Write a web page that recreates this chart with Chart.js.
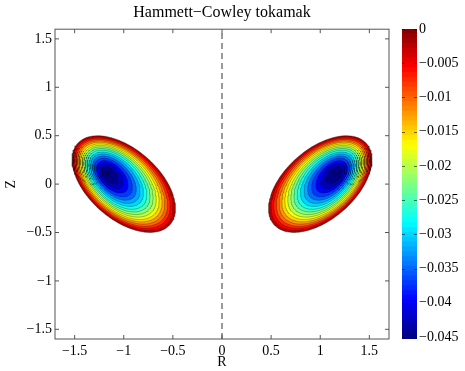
<!DOCTYPE html>
<html>
<head>
<meta charset="utf-8">
<script src="https://cdn.jsdelivr.net/npm/chart.js@4.4.1/dist/chart.umd.min.js"></script>
<style>
  html, body { margin: 0; padding: 0; background: #fff; }
  #wrap { position: relative; width: 465px; height: 371px; }
  #main { position: absolute; left: 0; top: 0; }
  #cbar { position: absolute; left: 395px; top: 0; }
</style>
</head>
<body>
<div id="wrap">
  <canvas id="main" width="465" height="371"></canvas>
  <canvas id="cbar" width="70" height="371"></canvas>
</div>
<script>
// contour levels of psi (outermost = separatrix at 0)
const levels = [0, -0.0025, -0.005, -0.0075, -0.01, -0.0125, -0.015, -0.0175, -0.02,
  -0.0225, -0.025, -0.0275, -0.03, -0.0325, -0.035, -0.0375, -0.04, -0.0425, -0.045];
// shape of each contour for the left lobe (right lobe is its mirror in R)
const centerR = [-1.000, -1.006, -1.012, -1.019, -1.025, -1.032, -1.039, -1.046, -1.054,
  -1.061, -1.069, -1.077, -1.086, -1.095, -1.105, -1.116, -1.128, -1.142, -1.163];
const centerZ = [0.000, 0.004, 0.008, 0.012, 0.016, 0.021, 0.025, 0.030, 0.035,
  0.040, 0.045, 0.050, 0.056, 0.062, 0.068, 0.075, 0.083, 0.092, 0.106];
const semiMajor = [0.630, 0.607, 0.584, 0.560, 0.536, 0.511, 0.485, 0.459, 0.431,
  0.403, 0.374, 0.343, 0.311, 0.277, 0.241, 0.201, 0.156, 0.103, 0.024];
const semiMinor = [0.360, 0.347, 0.334, 0.320, 0.306, 0.292, 0.277, 0.262, 0.247,
  0.230, 0.214, 0.196, 0.178, 0.158, 0.137, 0.115, 0.089, 0.059, 0.014];
const tiltDeg = [-42.0, -42.3, -42.6, -42.9, -43.2, -43.5, -43.8, -44.2, -44.5,
  -44.9, -45.3, -45.6, -46.0, -46.5, -46.9, -47.5, -48.0, -48.7, -49.7];

const psiMin = -0.0453;
const psiMax = 0;

const xTicks = [-1.5, -1, -0.5, 0, 0.5, 1, 1.5];
const yTicks = [-1.5, -1, -0.5, 0, 0.5, 1, 1.5];
const cbTicks = [0, -0.005, -0.01, -0.015, -0.02, -0.025, -0.03, -0.035, -0.04, -0.045];
const xRange = [-1.7, 1.7];
const yRange = [-1.6, 1.6];

const serif = "'Liberation Serif', 'DejaVu Serif', serif";
const fmt = v => String(v).replace('-', '\u2212');

// MATLAB style jet, 64 entries
function jet(v) {
  const x = (v - psiMin) / (psiMax - psiMin);
  const i = Math.min(63, Math.max(0, Math.floor(x * 64)));
  const t = (i + 0.5) / 64;
  const c = d => Math.round(255 * Math.max(0, Math.min(1, 1.5 - Math.abs(4 * t - d))));
  return `rgb(${c(3)},${c(2)},${c(1)})`;
}

function contourPoints(k, side) {
  const th = tiltDeg[k] * Math.PI / 180;
  const pts = [];
  const n = 140;
  for (let i = 0; i <= n; i++) {
    const t = 2 * Math.PI * i / n;
    const u = semiMajor[k] * Math.cos(t);
    const w = semiMinor[k] * Math.sin(t);
    const r = centerR[k] + u * Math.cos(th) - w * Math.sin(th);
    const z = centerZ[k] + u * Math.sin(th) + w * Math.cos(th);
    pts.push({ x: side * r, y: z });
  }
  return pts;
}

const step = levels[0] - levels[1];
const datasets = [];
levels.forEach((lv, k) => {
  [1, -1].forEach(side => {
    datasets.push({
      data: contourPoints(k, side),
      borderColor: k === 0 ? 'rgba(0,0,0,0.8)' : 'rgba(0,0,0,0.55)',
      borderWidth: 0.5,
      backgroundColor: jet(lv - step),
      fill: 'shape',
      pointRadius: 0,
      tension: 0,
      order: 100 - k
    });
  });
});
datasets.push({
  data: [{ x: 0, y: yRange[0] }, { x: 0, y: yRange[1] }],
  borderColor: '#333',
  borderWidth: 1,
  borderDash: [6, 4],
  fill: false,
  pointRadius: 0,
  order: -1
});

// box around the axes with inward ticks on all four sides
const framePlugin = {
  id: 'frame',
  afterDraw(chart) {
    const { ctx, chartArea: a, scales } = chart;
    ctx.save();
    ctx.strokeStyle = '#555';
    ctx.lineWidth = 1;
    ctx.strokeRect(a.left, a.top, a.right - a.left, a.bottom - a.top);
    ctx.beginPath();
    xTicks.forEach(v => {
      const px = scales.x.getPixelForValue(v);
      ctx.moveTo(px, a.bottom); ctx.lineTo(px, a.bottom - 4);
      ctx.moveTo(px, a.top); ctx.lineTo(px, a.top + 4);
    });
    yTicks.forEach(v => {
      const py = scales.y.getPixelForValue(v);
      ctx.moveTo(a.left, py); ctx.lineTo(a.left + 4, py);
      ctx.moveTo(a.right, py); ctx.lineTo(a.right - 4, py);
    });
    ctx.stroke();
    ctx.restore();
  }
};

new Chart(document.getElementById('main'), {
  type: 'line',
  data: { datasets },
  plugins: [framePlugin],
  options: {
    responsive: false,
    animation: false,
    layout: { padding: { left: 0, right: 76, top: 0, bottom: 0 } },
    plugins: {
      legend: { display: false },
      tooltip: { enabled: false },
      title: {
        display: true,
        text: 'Hammett\u2212Cowley tokamak',
        fullSize: false,
        color: '#000',
        font: { family: serif, size: 16, weight: 'normal' },
        padding: { top: 3, bottom: 7 }
      }
    },
    scales: {
      x: {
        type: 'linear',
        min: xRange[0],
        max: xRange[1],
        afterBuildTicks: s => { s.ticks = xTicks.map(v => ({ value: v })); },
        afterFit: s => { s.height = 32; },
        grid: { display: false, drawTicks: false },
        border: { display: false },
        ticks: { padding: 4, autoSkip: false, maxRotation: 0, color: '#000',
          font: { family: serif, size: 14 }, callback: v => fmt(v) },
        title: { display: true, text: 'R', color: '#000', padding: 0,
          font: { family: serif, size: 14 } }
      },
      y: {
        type: 'linear',
        min: yRange[0],
        max: yRange[1],
        afterBuildTicks: s => { s.ticks = yTicks.map(v => ({ value: v })); },
        afterFit: s => { s.width = 55; },
        grid: { display: false, drawTicks: false },
        border: { display: false },
        ticks: { padding: 3, autoSkip: false, color: '#000',
          font: { family: serif, size: 14 }, callback: v => fmt(v) },
        title: { display: true, text: 'Z', color: '#000', padding: { top: 3, bottom: 3 },
          font: { family: serif, size: 14 } }
      }
    }
  }
});

// colorbar
const nSeg = 64;
const segH = (psiMax - psiMin) / nSeg;
const cbSets = [];
for (let i = 0; i < nSeg; i++) {
  const lo = psiMin + i * segH;
  cbSets.push({
    data: [[lo, Math.min(psiMax, lo + segH * 1.05)]],
    backgroundColor: jet(lo + segH / 2),
    borderWidth: 0,
    categoryPercentage: 1,
    barPercentage: 1,
    grouped: false
  });
}

const cbTickPlugin = {
  id: 'cbTicks',
  afterDraw(chart) {
    const { ctx, chartArea: a, scales } = chart;
    ctx.save();
    ctx.strokeStyle = 'rgba(0,0,0,0.55)';
    ctx.lineWidth = 1;
    ctx.beginPath();
    cbTicks.forEach(v => {
      const py = Math.round(scales.y.getPixelForValue(v)) + 0.5;
      ctx.moveTo(a.left, py); ctx.lineTo(a.left + 3, py);
      ctx.moveTo(a.right, py); ctx.lineTo(a.right - 3, py);
    });
    ctx.stroke();
    ctx.restore();
  }
};

new Chart(document.getElementById('cbar'), {
  type: 'bar',
  data: { labels: [''], datasets: cbSets },
  plugins: [cbTickPlugin],
  options: {
    responsive: false,
    animation: false,
    layout: { padding: { left: 7, right: 0, top: 29, bottom: 32 } },
    plugins: { legend: { display: false }, tooltip: { enabled: false } },
    scales: {
      x: { display: false },
      y: {
        position: 'right',
        min: psiMin,
        max: psiMax,
        afterBuildTicks: s => { s.ticks = cbTicks.map(v => ({ value: v })); },
        afterFit: s => { s.width = 48; },
        grid: { display: false, drawTicks: false },
        border: { display: false },
        ticks: { padding: 2, autoSkip: false, color: '#000',
          font: { family: serif, size: 14 }, callback: v => fmt(v) }
      }
    }
  }
});
</script>
</body>
</html>
